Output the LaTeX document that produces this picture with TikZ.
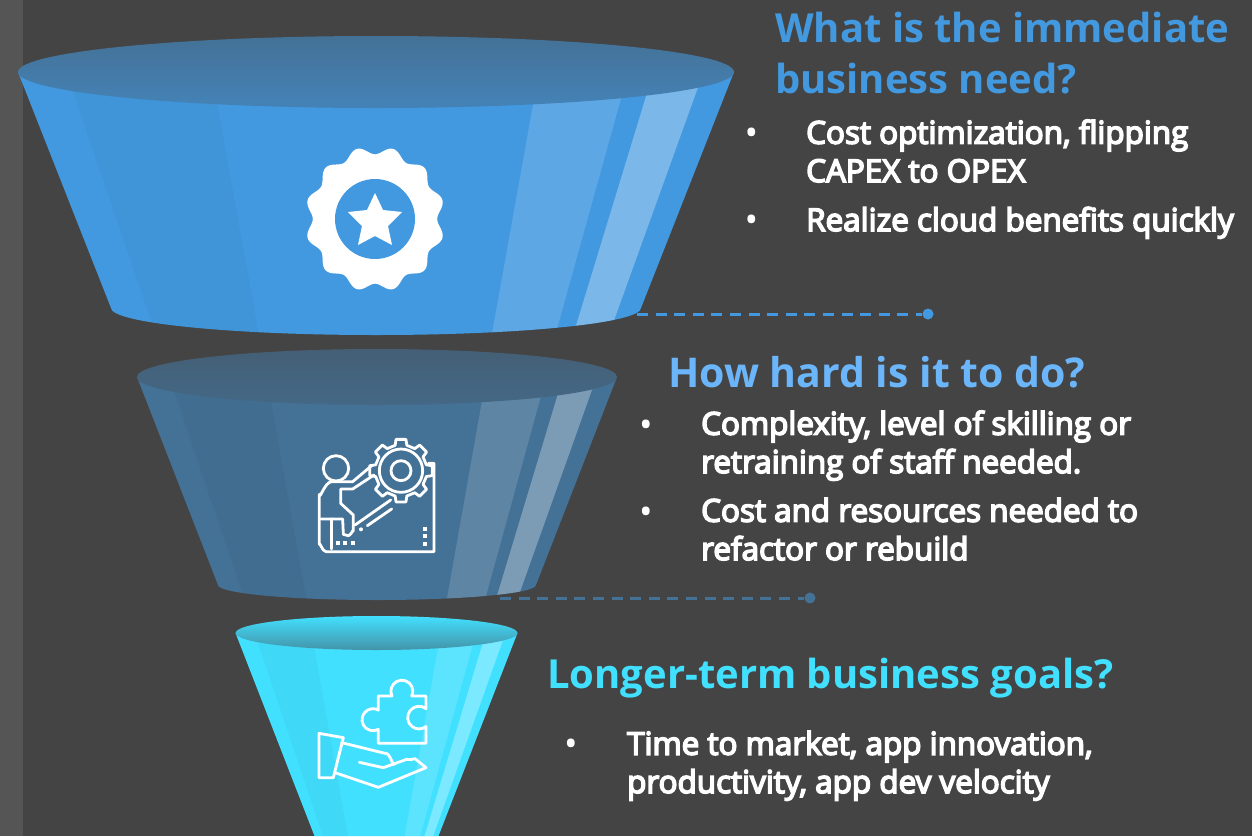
\documentclass[tikz,border=0pt]{standalone}
\usepackage{fontspec}
\setmainfont{Open Sans}
\newfontfamily\semiFont{Open Sans}[FakeBold=5]
\usetikzlibrary{positioning}
\definecolor{bgGrey}{HTML}{444444}
\definecolor{bandGrey}{HTML}{555555}
\definecolor{blueOne}{HTML}{4399E0}
\definecolor{blueTwo}{HTML}{447196}
\definecolor{blueThree}{HTML}{42E0FF}
\definecolor{blueHead}{HTML}{6BB6FB}
\tikzstyle{headText} = [anchor=base west, align=left, inner sep=0pt, font=\fontsize{40}{50.5}\selectfont\bfseries]
\tikzstyle{bodyText} = [anchor=base west, align=left, inner sep=0pt, text=white, font=\fontsize{31.4}{38.3}\selectfont\semiFont]
\tikzstyle{bulletText} = [anchor=base, inner sep=0pt, text=white, font=\fontsize{36}{38}\selectfont]
\tikzstyle{dashLine} = [line width=3pt, dash pattern=on 11pt off 7.6pt]
\tikzstyle{dotEnd} = [circle, inner sep=0pt, minimum size=11pt]
\tikzstyle{iconLine} = [draw=white, line width=2.8pt, line join=round, line cap=round]
% cx, top y, top rx, top ry, bottom rx, bottom y, bottom ry, fill, lid shading
\newcommand{\funnelCup}[9]{\fill[#8] ({#1-#3},#2) -- ({#1-#5},#6) arc[start angle=180, end angle=0, x radius=#5, y radius=#7] -- ({#1+#3},#2) -- cycle;
  \begin{scope}
    \clip ({#1-#3},#2) -- ({#1-#5},#6) arc[start angle=180, end angle=0, x radius=#5, y radius=#7] -- ({#1+#3},#2) -- cycle;
    \foreach \fa/\fb/\col/\op in {-.865/-.46/black/.03, .455/.705/white/.14, .775/.915/white/.3}
      \fill[\col, opacity=\op] ({#1+\fa*#3},#2) -- ({#1+\fa*(#5-(#3-#5)*.2)},{#6+(#6-#2)*.2}) -- ({#1+\fb*(#5-(#3-#5)*.2)},{#6+(#6-#2)*.2}) -- ({#1+\fb*#3},#2) -- cycle;
  \end{scope}
  \shade[#9] (#1,#2) ellipse [x radius=#3, y radius=#4];}
\begin{document}
\begin{tikzpicture}[x=1pt,y=-1pt]
  \useasboundingbox (0,0) rectangle (1252,836);
  \fill[bgGrey] (0,0) rectangle (1252,836);
  \fill[bandGrey] (0,0) rectangle (23,836);

  \funnelCup{376}{72}{358}{36}{265}{308}{27}{blueOne}{top color=blueTwo, bottom color=blueOne!45!blueTwo}
  \funnelCup{377}{377}{240}{28}{159}{585}{15}{blueTwo}{top color=blueTwo!60!bgGrey, bottom color=blueTwo!80!bgGrey}
  \funnelCup{376.5}{633}{141}{17}{62}{836}{.1}{blueThree}{top color=blueThree, bottom color=blueThree!55!bgGrey!85!blueTwo}

  % badge
  \begin{scope}[shift={(375,219)}]
    \fill[white, yscale=1.04] plot[domain=0:360, samples=241, smooth] (\x:{66-3.8*cos(12*\x)}) -- cycle;
    \fill[blueOne] (0,0) circle (40);
    \fill[white] (0,-26) -- (8,-9) -- (27,-7) -- (13,7) -- (17,26) -- (0,17) -- (-17,26) -- (-13,7) -- (-27,-7) -- (-8,-9) -- cycle;
  \end{scope}

  % climber and gear
  \begin{scope}[shift={(300,425)}, x=.3333pt, y=-.3333pt]
    \draw[iconLine] (108,130) circle (38);
    \draw[iconLine] (215,122) -- (158,170) -- (95,170) to[out=180,in=-90] (58,208) -- (58,358) to[out=90,in=180] (78,380) -- (402,380) -- (402,115) -- (385,115);
    \draw[iconLine] (222,150) -- (158,192) -- (122,192) -- (122,235) -- (160,270) -- (160,318) to[out=90,in=0] (145,332) -- (130,328) -- (128,282) -- (62,282);
    \draw[iconLine] (95,282) -- (95,372);
    \draw[iconLine] (165,300) -- (272,225);
    \draw[iconLine] (202,302) -- (275,252);
    \fill[white] (183,313) circle (6);
    \foreach \dx in {113,135,158}
      \fill[white] (\dx-6,349) rectangle (\dx+6,361);
    \foreach \dy in {311,333,356}
      \fill[white] (369,\dy-6) rectangle (381,\dy+6);
    \begin{scope}[shift={(303,137)}]
      \draw[iconLine] (-13:78) \foreach \k in {0,45,...,315} { -- ({\k-13}:78) -- ({\k-9}:95) -- ({\k+9}:95) -- ({\k+13}:78)} -- cycle;
      \draw[iconLine] (0,0) circle (65);
      \draw[iconLine] (0,0) circle (30);
    \end{scope}
  \end{scope}

  % hand and puzzle piece
  \begin{scope}[shift={(300,670)}, x=.3333pt, y=-.3333pt]
    \draw[iconLine] (235,78) -- (276,78) arc[start angle=154, end angle=386, radius=33] -- (378,78) -- (378,116) arc[start angle=-52, end angle=-308, radius=34] -- (378,220) -- (235,220) -- (235,178) arc[start angle=61, end angle=299, radius=33] -- cycle;
    \draw[iconLine] (57,190) -- (130,203) -- (100,323) -- (57,323) -- cycle;
    \draw[iconLine] (125,218) -- (255,250) to[out=15,in=-100] (283,280);
    \draw[iconLine] (178,277) -- (250,293) -- (320,268) to[out=-15,in=195] (345,266) -- (378,293) -- (235,352) -- (105,308);
  \end{scope}

  \coordinate (cupOneEnd) at (637,314);
  \node (dotOne) at (928,314) [dotEnd, fill=blueOne] {};
  \draw [dashLine, draw=blueOne] (cupOneEnd) -- (dotOne);
  \coordinate (cupTwoEnd) at (500,598);
  \node (dotTwo) at (810,598) [dotEnd, fill=blueTwo] {};
  \draw [dashLine, draw=blueTwo] (cupTwoEnd) -- (dotTwo);

  \node (headOne) at (775,93) [headText, text=blueOne] {What is the immediate\\business need?};
  \node (bulOneA) at (751.5,145.5) [bulletText] {•};
  \node (bodyOneA) at (806,182) [bodyText] {Cost optimization, flipping\\CAPEX to OPEX};
  \node (bulOneB) at (751.5,232) [bulletText] {•};
  \node (bodyOneB) at (806,231) [bodyText] {Realize cloud benefits quickly};

  \node (headTwo) at (668,387) [headText, text=blueHead, font=\fontsize{41}{50.5}\selectfont\bfseries] {How hard is it to do?};
  \node (bulTwoA) at (646,437) [bulletText] {•};
  \node (bodyTwoA) at (701,473) [bodyText] {Complexity, level of skilling or\\retraining of staff needed.};
  \node (bulTwoB) at (646,524) [bulletText] {•};
  \node (bodyTwoB) at (701,560) [bodyText] {Cost and resources needed to\\refactor or rebuild};

  \node (headThree) at (547,688) [headText, text=blueThree] {Longer-term business goals?};
  \node (bulThree) at (571,756) [bulletText] {•};
  \node (bodyThree) at (627,793) [bodyText] {Time to market, app innovation,\\productivity, app dev velocity};
\end{tikzpicture}
\end{document}
